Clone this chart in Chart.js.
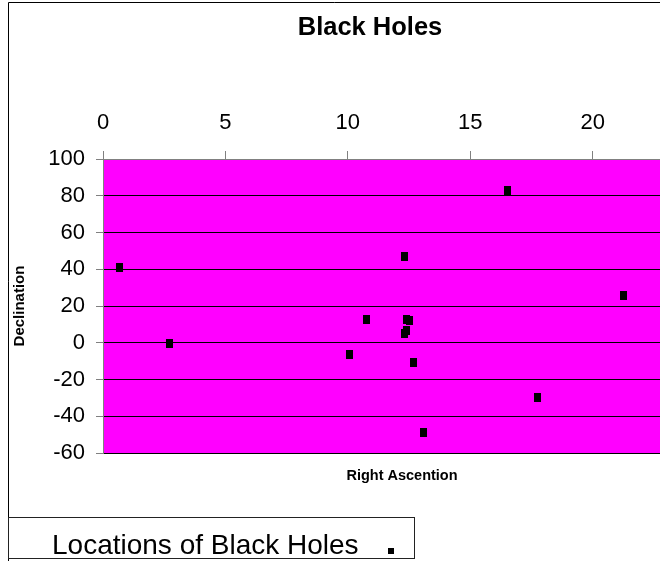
<!DOCTYPE html>
<html>
<head>
<meta charset="utf-8">
<title>Black Holes</title>
<script src="https://cdn.jsdelivr.net/npm/chart.js@4/dist/chart.umd.min.js"></script>
<style>
  html, body { margin: 0; padding: 0; background: #fff; overflow: hidden; }
  canvas { display: block; }
</style>
</head>
<body>
<canvas id="chart" width="660" height="561"></canvas>
<script>
// Text
const chartTitle = 'Black Holes';
const seriesName = 'Locations of Black Holes';
const xAxisTitle = 'Right Ascention';
const yAxisTitle = 'Declination';

// Right ascension (hours) and declination (degrees) of each object
const rightAscension = [0.69, 2.73, 10.07, 10.78, 12.32, 12.41, 12.50, 12.31, 12.40, 12.69, 13.10, 16.54, 17.76, 21.27];
const declination    = [40.8, -0.3, -6.2, 12.9, 47.2, 12.9, 12.3, 5.2, 6.9, -10.6, -48.7, 82.6, -29.6, 25.8];

// Tick labels
const xTickValues = [0, 5, 10, 15, 20];
const yTickValues = [-60, -40, -20, 0, 20, 40, 60, 80, 100];

const points = rightAscension.map((ra, i) => ({ x: ra, y: declination[i] }));

// small upright black rectangle used as the marker
const marker = document.createElement('canvas');
marker.width = 7;
marker.height = 9;
(function () {
  const m = marker.getContext('2d');
  m.fillStyle = '#000';
  m.fillRect(0, 0, 7, 9);
})();

const FONT = '"Liberation Sans", Arial, Helvetica, sans-serif';

const decorations = {
  id: 'decorations',
  beforeDraw(chart) {
    const { ctx, chartArea: a } = chart;
    ctx.save();
    ctx.fillStyle = '#FF00FF';
    ctx.fillRect(a.left, a.top, a.right - a.left, a.bottom - a.top);
    ctx.restore();
  },
  afterDraw(chart) {
    const ctx = chart.ctx;
    ctx.save();
    // chart frame
    ctx.strokeStyle = '#000';
    ctx.lineWidth = 1;
    ctx.beginPath();
    ctx.moveTo(8.5, 561);
    ctx.lineTo(8.5, 2.5);
    ctx.lineTo(660, 2.5);
    ctx.stroke();

    // chart title
    ctx.fillStyle = '#000';
    ctx.textAlign = 'center';
    ctx.textBaseline = 'alphabetic';
    ctx.font = 'bold 25.5px ' + FONT;
    ctx.fillText(chartTitle, 370, 35);

    // horizontal axis title (below the plot)
    ctx.font = 'bold 14.5px ' + FONT;
    ctx.fillText(xAxisTitle, 402, 480);

    // legend
    ctx.strokeStyle = '#222';
    ctx.strokeRect(8.5, 517.5, 406, 41);
    ctx.textAlign = 'left';
    ctx.font = '28px ' + FONT;
    ctx.fillText(chart.data.datasets[0].label, 52, 554);
    ctx.fillStyle = '#000';
    ctx.fillRect(388, 548, 6, 6);
    ctx.restore();
  }
};

new Chart(document.getElementById('chart'), {
  type: 'scatter',
  data: {
    datasets: [{
      label: seriesName,
      data: points,
      pointStyle: marker,
      pointRadius: 4,
      pointHoverRadius: 4,
      showLine: false,
      clip: false
    }]
  },
  options: {
    responsive: false,
    animation: false,
    devicePixelRatio: 1,
    events: [],
    layout: {
      autoPadding: false,
      padding: { top: 0, left: 0, right: 0, bottom: 108 }
    },
    plugins: {
      legend: { display: false },
      title: { display: false },
      tooltip: { enabled: false }
    },
    scales: {
      x: {
        type: 'linear',
        position: 'top',
        min: 0,
        max: 22.75,
        afterFit(scale) {
          scale.height = 159;
          scale.paddingLeft = 0;
          scale.paddingRight = 0;
        },
        afterBuildTicks(scale) { scale.ticks = xTickValues.map(v => ({ value: v })); },
        grid: {
          drawOnChartArea: false,
          drawTicks: true,
          tickLength: 8,
          tickColor: '#808080',
          tickWidth: 1
        },
        border: { display: true, color: '#808080', width: 1 },
        ticks: {
          color: '#000',
          padding: 15,
          maxRotation: 0,
          autoSkip: false,
          font: { family: FONT, size: 22, lineHeight: 1.2 }
        }
      },
      y: {
        type: 'linear',
        position: 'left',
        min: -60,
        max: 100,
        afterFit(scale) {
          scale.width = 103;
          scale.paddingTop = 0;
          scale.paddingBottom = 0;
        },
        afterBuildTicks(scale) { scale.ticks = yTickValues.map(v => ({ value: v })); },
        grid: {
          color: '#000',
          lineWidth: 1,
          drawTicks: true,
          tickLength: 7,
          tickColor: '#808080',
          tickWidth: 1
        },
        border: { display: true, color: '#808080', width: 1 },
        ticks: {
          color: '#000',
          padding: 11,
          autoSkip: false,
          font: { family: FONT, size: 22, lineHeight: 1.2 }
        },
        title: {
          display: true,
          text: yAxisTitle,
          color: '#000',
          padding: { top: 11, bottom: 0 },
          font: { family: FONT, size: 15, weight: 'bold', lineHeight: 1.2 }
        }
      }
    }
  },
  plugins: [decorations]
});
</script>
</body>
</html>
